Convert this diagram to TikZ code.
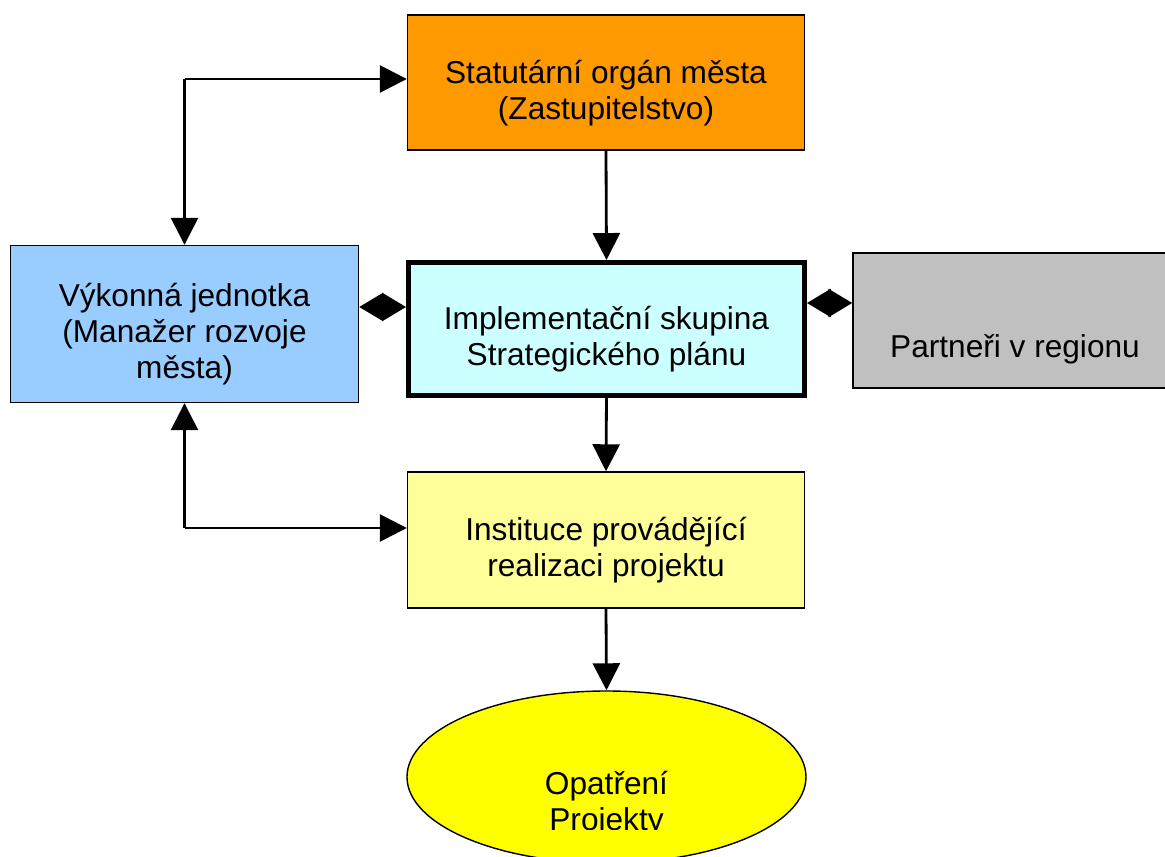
\documentclass[tikz,border=0pt]{standalone}
\usepackage{fontspec}
\setmainfont{Liberation Sans}
\usetikzlibrary{arrows.meta,shapes.geometric}

\definecolor{statorange}{HTML}{FF9900}
\definecolor{vykblue}{HTML}{99CCFF}
\definecolor{implcyan}{HTML}{CCFFFF}
\definecolor{partgrey}{HTML}{C0C0C0}
\definecolor{instyellow}{HTML}{FFFF99}
\definecolor{opyellow}{HTML}{FFFF00}

% box text sits a little below the middle
\newcommand{\boxtext}[1]{\raisebox{-1.15mm}[\height][\depth]{\begin{tabular}{@{}c@{}}#1\end{tabular}}}

\begin{document}
\begin{tikzpicture}[
        box/.style={draw, line width=0.4pt, minimum width=3.97cm, minimum height=1.35cm,
            font=\fontsize{9}{10.2}\selectfont},
        arr/.style={line width=0.8pt, -{Triangle[length=2.7mm,width=2.7mm]}},
        both/.style={line width=0.8pt, {Triangle[length=2.4mm,width=2.8mm]}-{Triangle[length=2.4mm,width=2.8mm]}}
    ]
        \useasboundingbox (0,0) rectangle (11.65,8.57);

        \node (stat) [box, fill=statorange] at (6.06,7.745) {\boxtext{Statutární orgán města\\(Zastupitelstvo)}};
        \node (vyk) [box, fill=vykblue, minimum width=3.48cm, minimum height=1.57cm] at (1.845,5.33) {\boxtext{Výkonná jednotka\\(Manažer rozvoje\\města)}};
        \node (impl) [box, fill=implcyan, line width=1.4pt, minimum width=3.96cm, minimum height=1.33cm] at (6.065,5.28) {\boxtext{Implementační skupina\\Strategického plánu}};
        \node (partn) [box, fill=partgrey, minimum width=3.24cm, text height=0.85cm, text depth=0.1cm] at (10.15,5.365) {Partneři v regionu};
        \node (inst) [box, fill=instyellow, minimum height=1.36cm] at (6.06,3.17) {\boxtext{Instituce provádějící\\realizaci projektu}};
        \node (opat) [ellipse, draw, fill=opyellow, line width=0.4pt, minimum width=3.99cm, minimum height=1.72cm, inner sep=0pt] at (6.065,0.80) {};
        \begin{scope}
            \clip (4,0.27) rectangle (8.2,1.7);
            \node (opattext) [align=center, font=\fontsize{9}{10.2}\selectfont] at (6.065,0.53) {Opatření\\Projekty};
        \end{scope}

        \coordinate (tl) at (1.845,7.78);
        \coordinate (bl) at (1.845,3.29);

        \draw[arr] (tl) -- (stat.west |- tl);
        \draw[arr] (tl) -- (vyk.north);
        \draw[arr] (stat.south) -- (impl.north);
        \draw[both] ([yshift=0.22cm]vyk.east |- impl.west) -- ([yshift=0.22cm]impl.west);
        \draw[both] ([yshift=0.26cm]impl.east) -- ([yshift=0.26cm]partn.west |- impl.east);
        \draw[arr] (impl.south) -- (inst.north);
        \draw[arr] (bl) -- (vyk.south);
        \draw[arr] (bl) -- (inst.west |- bl);
        \draw[arr] (inst.south) -- (opat.north);
    \end{tikzpicture}
\end{document}
